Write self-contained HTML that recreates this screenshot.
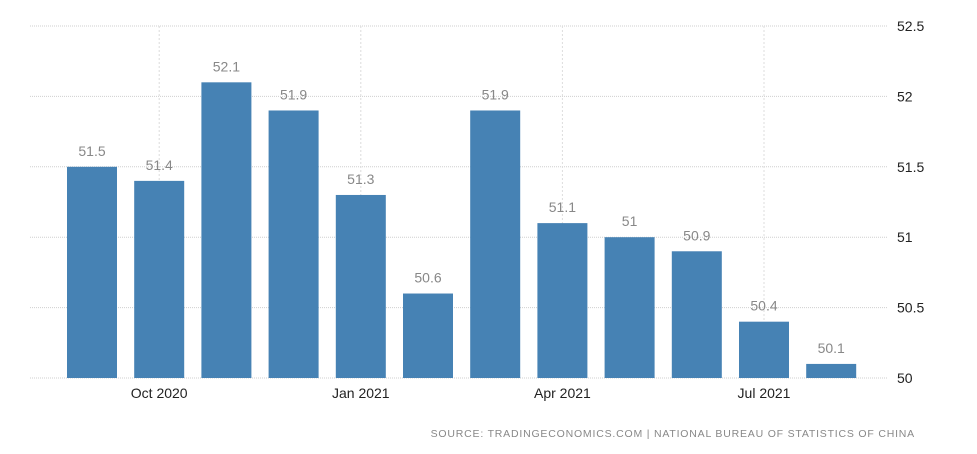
<!DOCTYPE html>
<html><head><meta charset="utf-8"><style>
body{margin:0;background:#fff;}
svg{display:block;font-family:"Liberation Sans",sans-serif;}
</style></head><body>
<svg id="chart" width="977" height="454"></svg>
<script>
const categories=["Sep 2020","Oct 2020","Nov 2020","Dec 2020","Jan 2021","Feb 2021","Mar 2021","Apr 2021","May 2021","Jun 2021","Jul 2021","Aug 2021"];
const values=[51.5,51.4,52.1,51.9,51.3,50.6,51.9,51.1,51.0,50.9,50.4,50.1];
const yTicks=[50,50.5,51,51.5,52,52.5];
const xTickLabels=["Oct 2020","Jan 2021","Apr 2021","Jul 2021"];

const NS="http://www.w3.org/2000/svg";
const svg=document.getElementById('chart');
const yMin=50,yMax=52.5,yTop=26,yBot=378;
function y(v){return yBot-(v-yMin)/(yMax-yMin)*(yBot-yTop);}
function x(i){return 92+i*67.2;}
const barW=50;
function el(t,a,p){const e=document.createElementNS(NS,t);for(const k in a)e.setAttribute(k,a[k]);(p||svg).appendChild(e);return e;}

const grid=el('g',{});


yTicks.forEach(t=>{
  const l=el('line',{x1:30,x2:888,y1:y(t),y2:y(t),stroke:'#cfcfcf','stroke-dasharray':'1,1'},grid);
  
  
  const tx=el('text',{x:897,y:y(t)+5,'font-size':14,fill:'#222'});
  tx.textContent=String(t);
  
  
});
xTickLabels.forEach(lbl=>{
  const i=categories.indexOf(lbl);
  const l=el('line',{x1:x(i),x2:x(i),y1:yTop,y2:yBot,stroke:'#dcdcdc','stroke-dasharray':'2,2'},grid);
  
  
  const tx=el('text',{x:x(i),y:398,'font-size':14,fill:'#222','text-anchor':'middle'});
  tx.textContent=lbl;
  
  
});
values.forEach((v,i)=>{
  const r=el('rect',{x:x(i)-barW/2,y:y(v),width:barW,height:yBot-y(v),fill:'#4682b4'});
  
  
  const tx=el('text',{x:x(i),y:y(v)-11,'font-size':14,fill:'#888','text-anchor':'middle'});
  tx.textContent=String(v);
  
  
});
const s=el('text',{x:915,y:437,'font-size':10.5,fill:'#888','text-anchor':'end','letter-spacing':'0.8'});
s.textContent="SOURCE: TRADINGECONOMICS.COM | NATIONAL BUREAU OF STATISTICS OF CHINA";


</script>
</body></html>
